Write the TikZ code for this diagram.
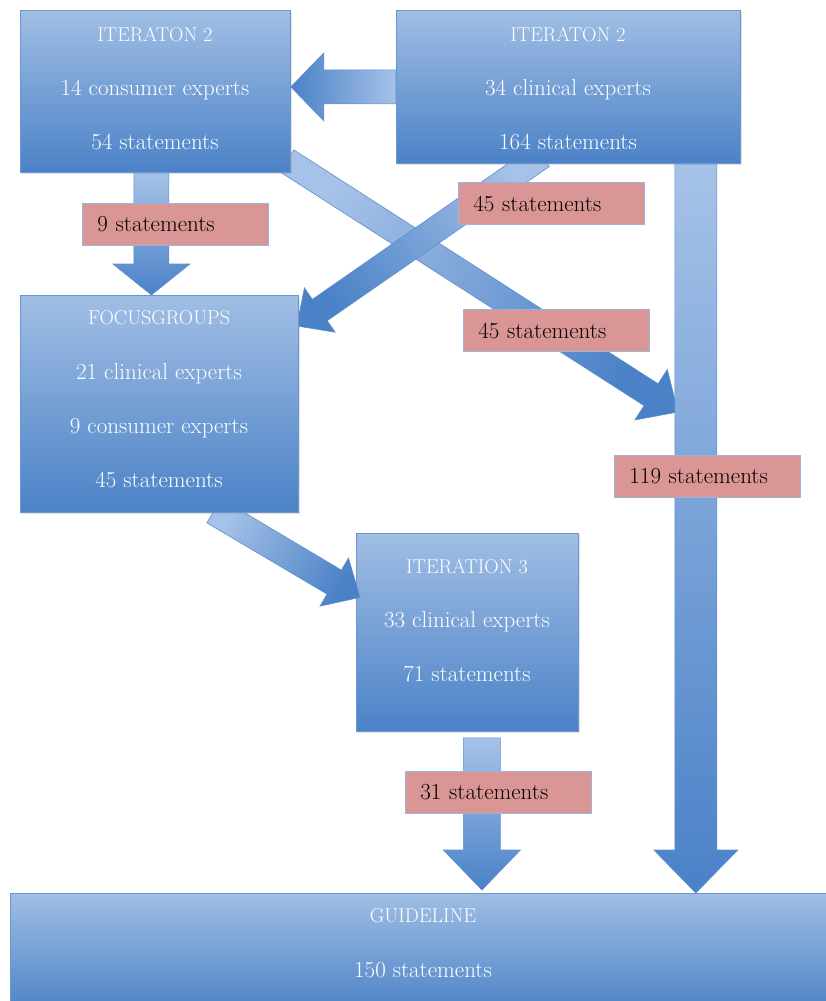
\documentclass[tikz,border=0pt]{standalone}
\usetikzlibrary{calc,shadows}
\definecolor{boxtop}{HTML}{A0BEE4}
\definecolor{boxmid}{HTML}{8AADDD}
\definecolor{boxbot}{HTML}{4B82C7}
\definecolor{boxline}{HTML}{6A97D0}
\definecolor{arrtop}{HTML}{A6C2E8}
\definecolor{arrmid}{HTML}{7FA6DA}
\definecolor{arrbot}{HTML}{4A81C7}
\definecolor{arrline}{HTML}{5F8ECD}
\definecolor{labfill}{HTML}{D99694}
\definecolor{labline}{HTML}{9AB4DB}
\pgfdeclarelayer{bgbox}
\pgfdeclarelayer{bg}
\pgfdeclarelayer{front}
\pgfsetlayers{bgbox,bg,main,front}
\newcommand\blockarrow[6][]{%
  \coordinate (ba) at ($(#3)!#6!(#2)$);
  \shade[arr,#1] ($(#2)!#4!90:(#3)$) -- ($(ba)!#4!90:(#3)$) -- ($(ba)!#5!90:(#3)$) -- (#3)
    -- ($(ba)!#5!-90:(#3)$) -- ($(ba)!#4!-90:(#3)$) -- ($(#2)!#4!-90:(#3)$) -- cycle;
}
\begin{document}
\begin{tikzpicture}[x=1pt,y=-1pt,
  box/.style={draw=boxline, line width=0.8pt, top color=boxtop, middle color=boxmid, bottom color=boxbot,
    anchor=north west, inner sep=0pt, drop shadow={opacity=0.22,shadow xshift=1.5pt,shadow yshift=-1.5pt}},
  ttl/.style={text=white, font=\fontsize{20}{24}\selectfont, anchor=base, inner sep=0pt},
  txt/.style={text=white, font=\fontsize{23}{27}\selectfont, anchor=base, inner sep=0pt},
  lab/.style={draw=labline, line width=0.8pt, fill=labfill, anchor=west, minimum height=42pt,
    text width=156pt, inner xsep=15pt, inner ysep=0pt, align=left, font=\fontsize{23}{27}\selectfont, text=black},
  arr/.style={draw=arrline, line width=0.6pt, top color=arrtop, middle color=arrmid, bottom color=arrbot}
]
\useasboundingbox (0,0) rectangle (826,1001);

% boxes
\node[box, minimum width=270pt, minimum height=162pt] (A) at (20,10) {};
\node[box, minimum width=344pt, minimum height=153pt] (B) at (396,10) {};
\node[box, minimum width=278pt, minimum height=217pt] (F) at (20,295) {};
\begin{pgfonlayer}{bgbox}
\node[box, minimum width=222pt, minimum height=198pt] (I3) at (356,533) {};
\end{pgfonlayer}
\node[box, minimum width=826pt, minimum height=120pt] (G) at (10,893) {};

% box texts
\node[ttl] (a1) at (155,41) {ITERATON 2};
\node[txt] (a2) at (155,95) {14 consumer experts};
\node[txt] (a3) at (155,149) {54 statements};
\node[ttl] (b1) at (568,41) {ITERATON 2};
\node[txt] (b2) at (568,95) {34 clinical experts};
\node[txt] (b3) at (568,149) {164 statements};
\node[ttl] (f1) at (159,324) {FOCUSGROUPS};
\node[txt] (f2) at (159,379) {21 clinical experts};
\node[txt] (f3) at (159,433) {9 consumer experts};
\node[txt] (f4) at (159,487) {45 statements};
\node[ttl] (i1) at (467,573) {ITERATION 3};
\node[txt] (i2) at (467,627) {33 clinical experts};
\node[txt] (i3) at (467,681) {71 statements};
\node[ttl] (g1) at (423,922) {GUIDELINE};
\node[txt] (g2) at (423,977) {150 statements};

% connector end points
\coordinate (p1s) at (B.west);
\coordinate (p1t) at (A.east |- B.west);
\coordinate (p2s) at ($(A.south)+(-4,0)$);
\coordinate (p2t) at (p2s |- F.north);
\coordinate (p3s) at ($(A.south east)+(-4,-12)$);
\coordinate (p3t) at (678,412);
\coordinate (p4s) at ($(B.south west)+(146,-8)$);
\coordinate (p4t) at ($(F.north east)+(-2,31)$);
\coordinate (p5s) at ($(B.south east)+(-45,0)$);
\coordinate (p5t) at (p5s |- G.north);
\coordinate (p6s) at ($(F.south west)+(194,-2)$);
\coordinate (p6t) at ($(I3.west)+(4,-35)$);
\coordinate (p7s) at ($(I3.south)+(14.5,6)$);
\coordinate (p7t) at ($(p7s |- G.north)+(0,-3)$);

% block arrows
\begin{pgfonlayer}{bg}
\blockarrow[shading angle=57.3]{p3s}{p3t}{13pt}{30pt}{32pt}
\blockarrow[shading angle=304.8]{p4s}{p4t}{13pt}{27pt}{28pt}
\blockarrow[shading angle=0]{p5s}{p5t}{21pt}{42pt}{43pt}
\blockarrow[shading angle=59.2]{p6s}{p6t}{14pt}{28pt}{30pt}
\blockarrow[shading angle=0]{p2s}{p2t}{17.5pt}{38.5pt}{31pt}
\blockarrow[shading angle=0]{p7s}{p7t}{18.5pt}{38.5pt}{40pt}
\end{pgfonlayer}
\begin{pgfonlayer}{front}
\blockarrow[shading angle=270]{p1s}{p1t}{17pt}{34pt}{33pt}
\end{pgfonlayer}

% labels
\begin{pgfonlayer}{front}
\node[lab] (l1) at (82,224) {9 statements};
\node[lab] (l2) at (458,203.5) {45 statements};
\node[lab] (l3) at (463,330.5) {45 statements};
\node[lab] (l4) at (614,476) {119 statements};
\node[lab] (l5) at (405,792.5) {31 statements};
\end{pgfonlayer}
\end{tikzpicture}
\end{document}
